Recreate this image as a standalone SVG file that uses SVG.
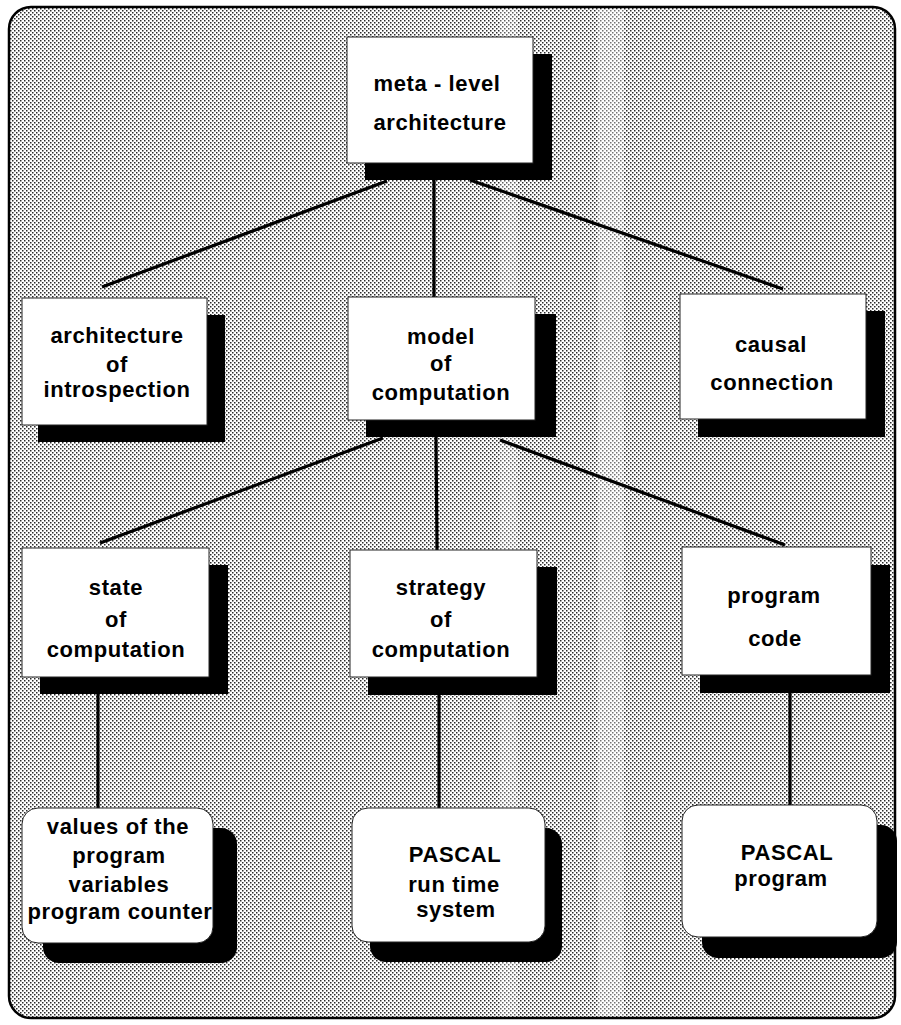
<svg xmlns="http://www.w3.org/2000/svg" width="901" height="1025" viewBox="0 0 901 1025">
<defs>
<pattern id="dots" width="4" height="4" patternUnits="userSpaceOnUse">
<rect width="4" height="4" fill="#ffffff"/>
<rect x="0" y="0" width="1.5" height="1.5" fill="#2a2a2a"/>
<rect x="2" y="2" width="1.5" height="1.5" fill="#2a2a2a"/>
</pattern>
<style>
.box{fill:#ffffff;stroke:#222;stroke-width:1}
.sh{fill:#000}
.t{font-family:"Liberation Sans",Arial,sans-serif;font-weight:bold;font-size:22px;letter-spacing:0.6px;fill:#000;text-anchor:middle}
.c{stroke:#000;stroke-width:3.2;fill:none}
</style>
</defs>
<rect width="901" height="1025" fill="#ffffff"/>
<rect x="9" y="7" width="886" height="1011" rx="22" fill="url(#dots)" stroke="#000" stroke-width="2.5"/>
<rect x="500" y="9" width="18" height="1007" fill="#ffffff" opacity="0.25"/>
<rect x="598" y="9" width="26" height="1007" fill="#ffffff" opacity="0.35"/>

<g id="connectors">
<line class="c" x1="387" y1="181" x2="102" y2="287"/>
<line class="c" x1="434" y1="180" x2="434" y2="297"/>
<line class="c" x1="470" y1="180" x2="783" y2="289"/>
<line class="c" x1="383" y1="438" x2="100" y2="543"/>
<line class="c" x1="436" y1="437" x2="437" y2="550"/>
<line class="c" x1="500" y1="440" x2="785" y2="545"/>
<line class="c" x1="98" y1="694" x2="98" y2="808"/>
<line class="c" x1="439" y1="695" x2="439" y2="808"/>
<line class="c" x1="790" y1="693" x2="790" y2="805"/>
</g>

<g id="meta-level-architecture">
<rect class="sh" x="365" y="54" width="187" height="126"/>
<rect class="box" x="347" y="37" width="186" height="126"/>
<text class="t" x="437" y="91">meta - level</text>
<text class="t" x="440" y="130">architecture</text>
</g>

<g id="architecture-of-introspection">
<rect class="sh" x="38" y="315" width="187" height="127"/>
<rect class="box" x="22" y="298" width="185" height="127"/>
<text class="t" x="117" y="343">architecture</text>
<text class="t" x="117" y="372">of</text>
<text class="t" x="117" y="397">introspection</text>
</g>

<g id="model-of-computation">
<rect class="sh" x="366" y="314" width="190" height="123"/>
<rect class="box" x="348" y="297" width="187" height="123"/>
<text class="t" x="441" y="344">model</text>
<text class="t" x="441" y="371">of</text>
<text class="t" x="441" y="400">computation</text>
</g>

<g id="causal-connection">
<rect class="sh" x="698" y="311" width="187" height="126"/>
<rect class="box" x="680" y="294" width="186" height="125"/>
<text class="t" x="771" y="352">causal</text>
<text class="t" x="772" y="390">connection</text>
</g>

<g id="state-of-computation">
<rect class="sh" x="40" y="565" width="188" height="129"/>
<rect class="box" x="22" y="548" width="187" height="129"/>
<text class="t" x="116" y="595">state</text>
<text class="t" x="116" y="627">of</text>
<text class="t" x="116" y="657">computation</text>
</g>

<g id="strategy-of-computation">
<rect class="sh" x="368" y="567" width="189" height="128"/>
<rect class="box" x="350" y="550" width="187" height="127"/>
<text class="t" x="441" y="595">strategy</text>
<text class="t" x="441" y="627">of</text>
<text class="t" x="441" y="657">computation</text>
</g>

<g id="program-code">
<rect class="sh" x="700" y="565" width="190" height="128"/>
<rect class="box" x="682" y="547" width="189" height="128"/>
<text class="t" x="774" y="603">program</text>
<text class="t" x="775" y="646">code</text>
</g>

<g id="values-of-program-variables">
<rect class="sh" x="43" y="828" width="194" height="135" rx="16"/>
<rect class="box" x="22" y="808" width="191" height="135" rx="16"/>
<text class="t" x="118" y="834">values of the</text>
<text class="t" x="119" y="863">program</text>
<text class="t" x="119" y="892">variables</text>
<text class="t" x="120" y="919">program counter</text>
</g>

<g id="pascal-run-time-system">
<rect class="sh" x="370" y="828" width="192" height="134" rx="16"/>
<rect class="box" x="352" y="808" width="193" height="134" rx="16"/>
<text class="t" x="455" y="862">PASCAL</text>
<text class="t" x="454" y="892">run time</text>
<text class="t" x="456" y="917">system</text>
</g>

<g id="pascal-program">
<rect class="sh" x="702" y="825" width="195" height="133" rx="16"/>
<rect class="box" x="682" y="805" width="195" height="132" rx="16"/>
<text class="t" x="787" y="860">PASCAL</text>
<text class="t" x="781" y="886">program</text>
</g>
</svg>
